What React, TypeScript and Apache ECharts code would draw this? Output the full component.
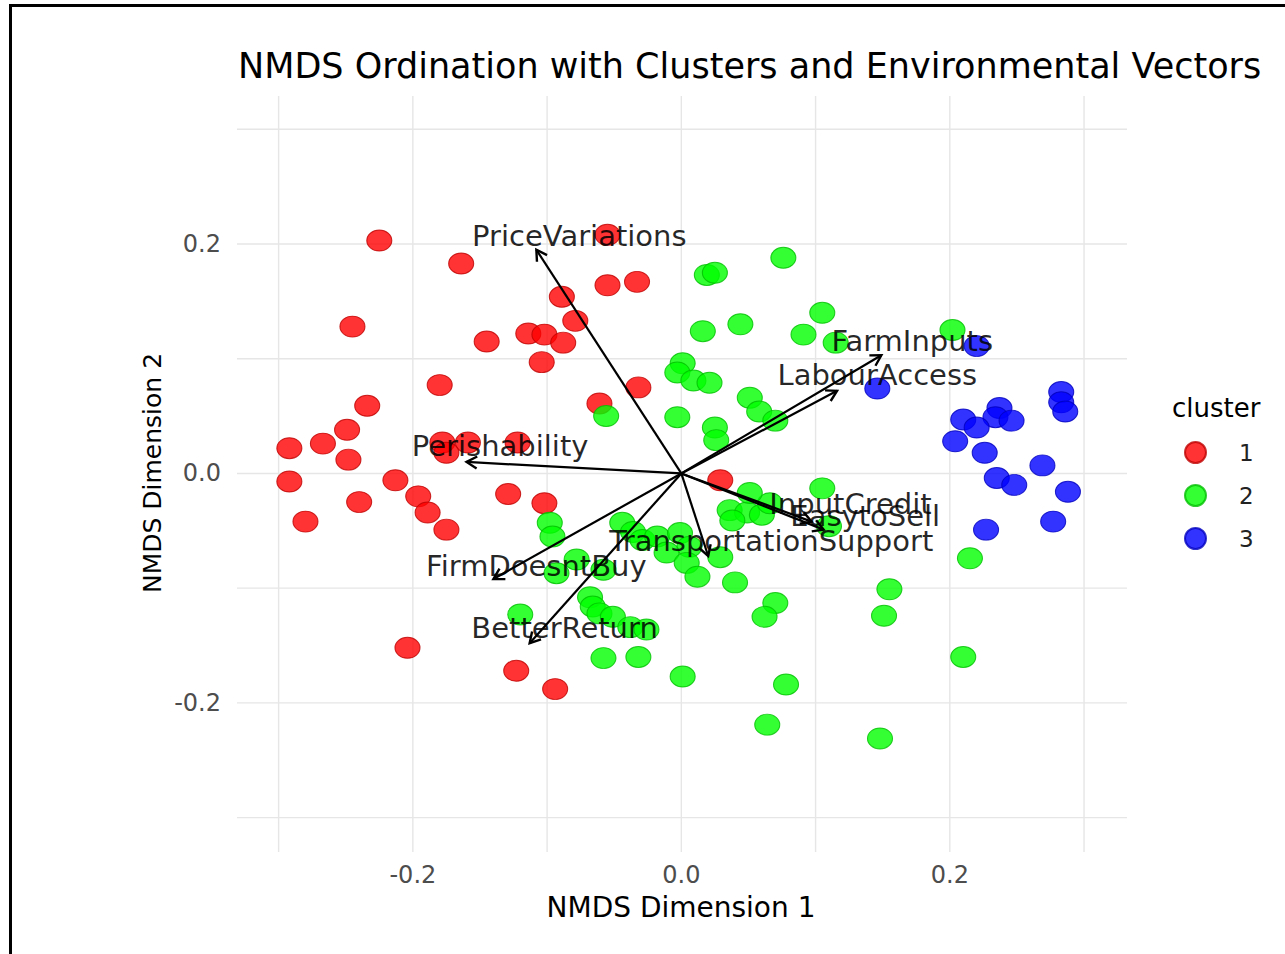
import React, { useEffect, useRef } from "react";
import * as echarts from "echarts";

// ---- data ----
const cluster1: number[][] = [
  [-0.225, 0.203], [-0.164, 0.183], [-0.055, 0.208], [-0.055, 0.164], [-0.033, 0.167],
  [-0.089, 0.154], [-0.245, 0.128], [-0.079, 0.133], [-0.114, 0.122], [-0.102, 0.121],
  [-0.088, 0.114], [-0.145, 0.115], [-0.104, 0.097], [-0.180, 0.077], [-0.032, 0.075],
  [-0.234, 0.059], [-0.061, 0.061], [-0.249, 0.038], [-0.292, 0.022], [-0.267, 0.026],
  [-0.178, 0.027], [-0.159, 0.027], [-0.122, 0.027], [-0.175, 0.018], [-0.248, 0.012],
  [-0.213, -0.006], [-0.292, -0.007], [-0.196, -0.020], [-0.129, -0.018], [-0.102, -0.026],
  [0.029, -0.006], [-0.240, -0.025], [-0.280, -0.042], [-0.189, -0.034], [-0.175, -0.049],
  [-0.204, -0.152], [-0.123, -0.172], [-0.094, -0.188],
];
const cluster2: number[][] = [
  [0.076, 0.188], [0.019, 0.173], [0.025, 0.175], [0.105, 0.140], [0.016, 0.124],
  [0.044, 0.130], [0.091, 0.121], [0.115, 0.114], [0.202, 0.125], [0.001, 0.096],
  [-0.003, 0.088], [0.009, 0.081], [0.021, 0.079], [0.051, 0.066], [0.058, 0.054],
  [0.070, 0.046], [-0.003, 0.049], [0.025, 0.040], [0.026, 0.029], [-0.056, 0.050],
  [0.105, -0.013], [0.036, -0.032], [0.049, -0.034], [0.038, -0.041], [0.060, -0.036],
  [0.066, -0.026], [0.051, -0.017], [-0.098, -0.043], [-0.096, -0.055], [-0.044, -0.043],
  [-0.036, -0.051], [-0.029, -0.058], [-0.018, -0.055], [-0.001, -0.052], [0.006, -0.064],
  [-0.011, -0.069], [0.004, -0.078], [0.012, -0.090], [0.029, -0.073], [0.040, -0.095],
  [-0.078, -0.075], [-0.058, -0.084], [-0.093, -0.087], [-0.068, -0.108], [-0.066, -0.116],
  [-0.061, -0.122], [-0.051, -0.125], [-0.038, -0.134], [-0.026, -0.136], [-0.120, -0.123],
  [-0.058, -0.161], [-0.032, -0.160], [0.001, -0.177], [0.070, -0.113], [0.062, -0.125],
  [0.078, -0.184], [0.064, -0.219], [0.148, -0.231], [0.155, -0.101], [0.151, -0.124],
  [0.210, -0.160], [0.215, -0.074], [0.110, -0.046],
];
const cluster3: number[][] = [
  [0.220, 0.111], [0.146, 0.074], [0.283, 0.071], [0.283, 0.062], [0.286, 0.054],
  [0.237, 0.057], [0.234, 0.049], [0.246, 0.046], [0.210, 0.047], [0.220, 0.040],
  [0.204, 0.028], [0.226, 0.018], [0.269, 0.007], [0.235, -0.004], [0.248, -0.010],
  [0.288, -0.016], [0.277, -0.042], [0.227, -0.049],
];

const vectorNames = [
  "PriceVariations", "FarmInputs", "LabourAccess", "Perishability", "InputCredit",
  "EasytoSell", "TransportationSupport", "FirmDoesntBuy", "BetterReturn",
];
const vectorX = [-0.108, 0.149, 0.116, -0.160, 0.097, 0.106, 0.020, -0.140, -0.113];
const vectorY = [0.195, 0.103, 0.072, 0.010, -0.042, -0.049, -0.072, -0.092, -0.148];
const labelX = [-0.076, 0.172, 0.146, -0.135, 0.126, 0.137, 0.067, -0.108, -0.087];
const labelY = [0.207, 0.115, 0.086, 0.024, -0.027, -0.037, -0.059, -0.081, -0.135];

const gridBreaks = [-0.3, -0.2, -0.1, 0, 0.1, 0.2, 0.3];
const tickValues = [-0.2, 0, 0.2];
const clusterNames = ["1", "2", "3"];
const clusterColors = ["rgba(255,0,0,0.8)", "rgba(0,255,0,0.8)", "rgba(0,0,255,0.8)"];
const clusterEdges = ["rgba(190,0,0,0.8)", "rgba(0,190,0,0.8)", "rgba(0,0,190,0.8)"];

const xRange = [-0.331, 0.332];
const yRange = [-0.33, 0.329];

const FONT = "DejaVu Sans";
const ELLIPSE = "path://M0,10A10,10 0 1,1 20,10A10,10 0 1,1 0,10Z";

export default function App() {
  const ref = useRef<HTMLDivElement>(null);

  useEffect(() => {
    if (!ref.current) return;
    const chart = echarts.init(ref.current, undefined, { renderer: "svg" });

    const gridColor = "#e6e6e6";

    const vGrid = {
      type: "custom",
      z: 0,
      silent: true,
      data: gridBreaks.map((v) => [v, 0]),
      renderItem: (params: any, api: any) => {
        const cs = params.coordSys;
        const p = api.coord([api.value(0), 0]);
        return {
          type: "line",
          shape: { x1: p[0], y1: cs.y, x2: p[0], y2: cs.y + cs.height },
          style: { stroke: gridColor, lineWidth: 1.4 },
        };
      },
    };
    const hGrid = {
      type: "custom",
      z: 0,
      silent: true,
      data: gridBreaks.map((v) => [0, v]),
      renderItem: (params: any, api: any) => {
        const cs = params.coordSys;
        const p = api.coord([0, api.value(1)]);
        return {
          type: "line",
          shape: { x1: cs.x, y1: p[1], x2: cs.x + cs.width, y2: p[1] },
          style: { stroke: gridColor, lineWidth: 1.4 },
        };
      },
    };

    const arrows = {
      type: "custom",
      z: 6,
      silent: true,
      data: vectorX.map((x, i) => [x, vectorY[i]]),
      renderItem: (_params: any, api: any) => {
        const s = api.coord([0, 0]);
        const e = api.coord([api.value(0), api.value(1)]);
        const a = Math.atan2(e[1] - s[1], e[0] - s[0]);
        const L = 12;
        const h = Math.PI / 6;
        const p1 = [e[0] - L * Math.cos(a - h), e[1] - L * Math.sin(a - h)];
        const p2 = [e[0] - L * Math.cos(a + h), e[1] - L * Math.sin(a + h)];
        return {
          type: "group",
          children: [
            {
              type: "line",
              shape: { x1: s[0], y1: s[1], x2: e[0], y2: e[1] },
              style: { stroke: "#000", lineWidth: 2.2 },
            },
            {
              type: "polyline",
              shape: { points: [p1, e, p2] },
              style: { stroke: "#000", lineWidth: 2.4, fill: null },
            },
          ],
        };
      },
    };

    const labels = {
      type: "custom",
      z: 7,
      silent: true,
      data: labelX.map((x, i) => [x, labelY[i], i]),
      renderItem: (_params: any, api: any) => {
        const p = api.coord([api.value(0), api.value(1)]);
        const i = api.value(2);
        return {
          type: "text",
          x: p[0],
          y: p[1],
          style: {
            text: vectorNames[i],
            fill: "rgba(0,0,0,0.85)",
            fontSize: 29,
            fontFamily: FONT,
            align: "center",
            verticalAlign: "middle",
          },
        };
      },
    };

    const scatters = [cluster1, cluster2, cluster3].map((d, i) => ({
      name: clusterNames[i],
      type: "scatter",
      z: 3,
      symbol: ELLIPSE,
      symbolSize: [25, 21],
      data: d,
      itemStyle: {
        color: clusterColors[i],
        borderColor: clusterEdges[i],
        borderWidth: 1,
        opacity: 1,
      },
      emphasis: { disabled: true },
    }));

    const option: any = {
      animation: false,
      backgroundColor: "#fff",
      grid: { left: 237, right: 158, top: 96, bottom: 102, containLabel: false, outerBoundsMode: "none" },
      xAxis: {
        type: "value",
        min: xRange[0],
        max: xRange[1],
        axisLine: { show: false },
        axisTick: { show: false },
        splitLine: { show: false },
        axisLabel: {
          customValues: tickValues,
          formatter: (v: number) => v.toFixed(1),
          fontSize: 24,
          color: "#4d4d4d",
          fontFamily: FONT,
          margin: 11,
        },
      },
      yAxis: {
        type: "value",
        min: yRange[0],
        max: yRange[1],
        axisLine: { show: false },
        axisTick: { show: false },
        splitLine: { show: false },
        axisLabel: {
          customValues: tickValues,
          formatter: (v: number) => v.toFixed(1),
          fontSize: 24,
          color: "#4d4d4d",
          fontFamily: FONT,
          margin: 16,
        },
      },
      legend: {
        orient: "vertical",
        left: 1184,
        top: 441,
        padding: 0,
        itemWidth: 25,
        itemHeight: 21,
        itemGap: 20,
        selectedMode: false,
        icon: ELLIPSE,
        data: clusterNames,
        textStyle: {
          fontSize: 23,
          color: "#222",
          fontFamily: FONT,
          padding: [0, 0, 0, 26],
          lineHeight: 21,
        },
      },
      graphic: [
        {
          type: "rect",
          silent: true,
          shape: { x: 10.5, y: 5.5, width: 1500, height: 1200 },
          style: { fill: "none", stroke: "#000", lineWidth: 3 },
        },
        {
          type: "text",
          silent: true,
          x: 238,
          y: 66,
          style: {
            text: "NMDS Ordination with Clusters and Environmental Vectors",
            fontSize: 35,
            fontFamily: FONT,
            fill: "#000",
            align: "left",
            verticalAlign: "middle",
          },
        },
        {
          type: "text",
          silent: true,
          x: 681,
          y: 907,
          style: {
            text: "NMDS Dimension 1",
            fontSize: 28,
            fontFamily: FONT,
            fill: "#000",
            align: "center",
            verticalAlign: "middle",
          },
        },
        {
          type: "text",
          silent: true,
          x: 152,
          y: 473,
          rotation: Math.PI / 2,
          style: {
            text: "NMDS Dimension 2",
            fontSize: 25,
            fontFamily: FONT,
            fill: "#000",
            align: "center",
            verticalAlign: "middle",
          },
        },
        {
          type: "text",
          silent: true,
          x: 1172,
          y: 408,
          style: {
            text: "cluster",
            fontSize: 26,
            fontFamily: FONT,
            fill: "#000",
            align: "left",
            verticalAlign: "middle",
          },
        },
      ],
      series: [vGrid, hGrid, ...scatters, arrows, labels],
    };

    chart.setOption(option);
    return () => chart.dispose();
  }, []);

  return (
    <div
      ref={ref}
      style={{ position: "absolute", left: 0, top: 0, width: 1285, height: 954, background: "#fff" }}
    />
  );
}
